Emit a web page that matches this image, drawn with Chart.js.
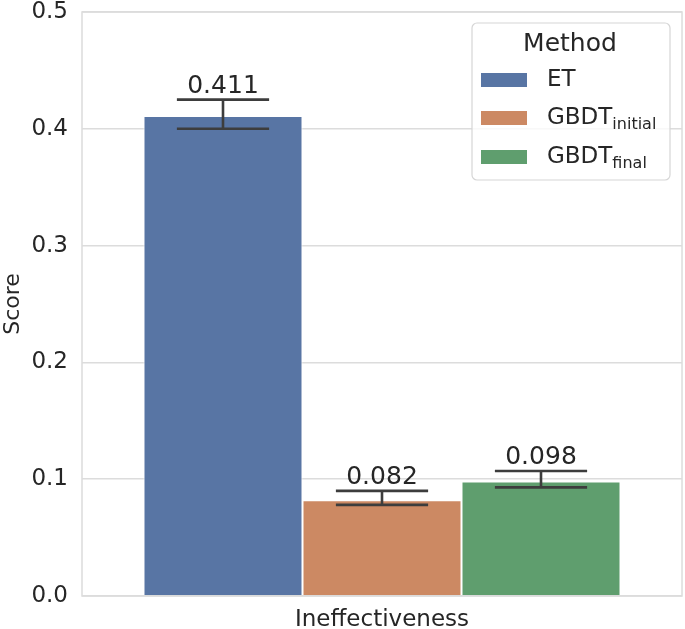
<!DOCTYPE html>
<html lang="en">
<head>
<meta charset="UTF-8">
<title>Ineffectiveness score</title>
<script src="https://cdn.jsdelivr.net/npm/chart.js"></script>
<style>
  html, body { margin: 0; padding: 0; background: #fff; }
  #wrap { width: 685px; height: 629px; }
</style>
</head>
<body>
<div id="wrap"><canvas id="myChart"></canvas></div>
<script>
// data
const categories = ['Ineffectiveness'];
const methodNames = ['ET', 'GBDT', 'GBDT'];
const methodSubs = ['', 'initial', 'final'];
const scores = [0.411, 0.082, 0.098];
const errLow = [0.400, 0.078, 0.093];
const errHigh = [0.425, 0.090, 0.107];
const yTicks = [0.0, 0.1, 0.2, 0.3, 0.4, 0.5];

const colors = ['#5875a4', '#cc8963', '#5f9e6e'];
const textColor = '#262626';
const gridColor = '#dcdcdc';
const fontName = '"DejaVu Sans", sans-serif';

// error bars + value labels on top of bars
const errPlugin = {
  id: 'errbars',
  afterDatasetsDraw(chart) {
    const c = chart.ctx;
    const y = chart.scales.y;
    c.save();
    chart.data.datasets.forEach((ds, i) => {
      const bar = chart.getDatasetMeta(i).data[0];
      const cap = bar.width * 0.29;
      const yl = y.getPixelForValue(errLow[i]);
      const yh = y.getPixelForValue(errHigh[i]);
      c.strokeStyle = '#3d3d3d';
      c.lineWidth = 2.6;
      c.beginPath();
      c.moveTo(bar.x, yl); c.lineTo(bar.x, yh);
      c.moveTo(bar.x - cap, yl); c.lineTo(bar.x + cap, yl);
      c.moveTo(bar.x - cap, yh); c.lineTo(bar.x + cap, yh);
      c.stroke();
      c.fillStyle = textColor;
      c.font = '25px ' + fontName;
      c.textAlign = 'center';
      c.textBaseline = 'alphabetic';
      c.fillText(scores[i].toFixed(3), bar.x, yh - 7);
    });
    c.restore();
  }
};

// frame round the plot
const framePlugin = {
  id: 'frame',
  afterDraw(chart) {
    const a = chart.chartArea;
    const c = chart.ctx;
    c.save();
    c.strokeStyle = gridColor;
    c.lineWidth = 1.5;
    c.strokeRect(a.left, a.top, a.right - a.left, a.bottom - a.top);
    c.restore();
  }
};

// legend with subscripts, drawn by hand
const legendPlugin = {
  id: 'subLegend',
  afterDraw(chart) {
    const c = chart.ctx;
    c.save();
    const bx = 472, by = 23, bw = 198, bh = 157;
    c.fillStyle = 'rgba(255,255,255,0.8)';
    c.strokeStyle = '#d6d6d6';
    c.lineWidth = 1.2;
    c.beginPath();
    c.roundRect(bx, by, bw, bh, 5);
    c.fill(); c.stroke();
    c.fillStyle = textColor;
    c.font = '25px ' + fontName;
    c.textAlign = 'center';
    c.textBaseline = 'middle';
    c.fillText('Method', 570, 44);
    const rowY = [80, 118, 157];
    methodNames.forEach((name, i) => {
      c.fillStyle = colors[i];
      c.fillRect(481, rowY[i] - 7, 46, 14);
      c.fillStyle = textColor;
      c.textAlign = 'left';
      c.font = '23px ' + fontName;
      c.fillText(name, 547, rowY[i]);
      if (methodSubs[i]) {
        const w = c.measureText(name).width;
        c.font = '16px ' + fontName;
        c.fillText(methodSubs[i], 547 + w, rowY[i] + 7);
      }
    });
    c.restore();
  }
};

const ctx = document.getElementById('myChart').getContext('2d');
const myChart = new Chart(ctx, {
  type: 'bar',
  data: {
    labels: categories,
    datasets: methodNames.map((n, i) => ({
      label: n + (methodSubs[i] ? '_' + methodSubs[i] : ''),
      data: [scores[i]],
      backgroundColor: colors[i],
      borderColor: '#ffffff',
      borderWidth: 1,
      borderSkipped: 'bottom'
    }))
  },
  options: {
    responsive: true,
    maintainAspectRatio: false,
    animation: false,
    devicePixelRatio: 1,
    layout: { padding: { top: 12, right: 3, left: 0, bottom: 0 } },
    plugins: {
      legend: { display: false },
      tooltip: { enabled: false }
    },
    datasets: { bar: { categoryPercentage: 0.795, barPercentage: 1.0 } },
    scales: {
      x: {
        grid: { display: false },
        border: { display: false },
        ticks: { color: textColor, font: { family: fontName, size: 23 }, padding: 2 },
        afterFit(s) { s.height = 33; s.paddingLeft = 0; s.paddingRight = 0; }
      },
      y: {
        min: 0, max: 0.5,
        afterBuildTicks(s) { s.ticks = yTicks.map(v => ({ value: v })); },
        grid: { color: gridColor, lineWidth: 1.5, drawTicks: false },
        border: { display: false },
        ticks: {
          color: textColor,
          font: { family: fontName, size: 23 },
          padding: 14,
          callback: v => v.toFixed(1)
        },
        title: {
          display: true, text: 'Score', color: textColor,
          font: { family: fontName, size: 22 }, padding: { top: 0, bottom: 0 }
        },
        afterFit(s) { s.width = 82; s.paddingTop = 0; s.paddingBottom = 0; }
      }
    }
  },
  plugins: [errPlugin, framePlugin, legendPlugin]
});
</script>
</body>
</html>
